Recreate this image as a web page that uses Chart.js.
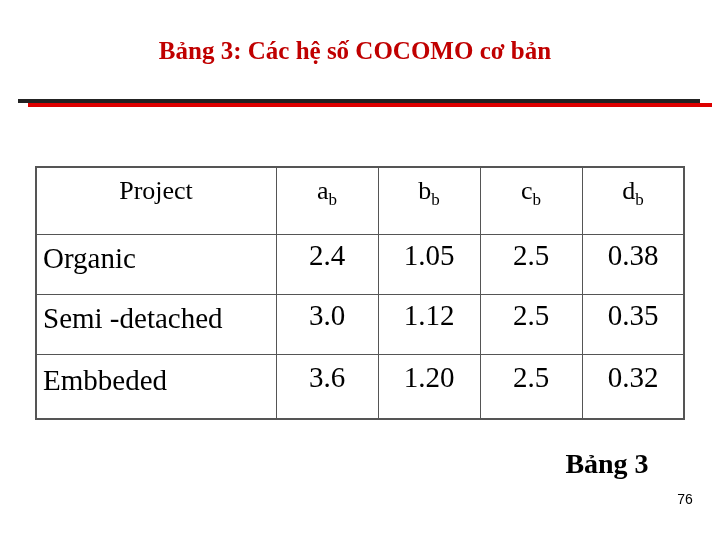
<!DOCTYPE html>
<html>
<head>
<meta charset="utf-8">
<script src="https://cdn.jsdelivr.net/npm/chart.js@4.4.1/dist/chart.umd.min.js"></script>
<style>body{margin:0;background:#fff}canvas{display:block}</style>
</head>
<body>
<canvas id="c" width="720" height="540"></canvas>
<script>
const title = "Bảng 3: Các hệ số COCOMO cơ bản";
const headers = [["Project",""],["a","b"],["b","b"],["c","b"],["d","b"]];
const projects = ["Organic","Semi -detached","Embbeded"];
const aValues = ["2.4","3.0","3.6"];
const bValues = ["1.05","1.12","1.20"];
const cValues = ["2.5","2.5","2.5"];
const dValues = ["0.38","0.35","0.32"];
const caption = "Bảng 3";
const pageNo = "76";

// layout in slide coordinates (scale units = px of the 720x540 slide)
const colEdges = [36,276,378,480,582,684];
const rowEdges = [167,234,294,354,419];
const SERIF = '"Liberation Serif", "Times New Roman", serif';

const tablePlugin = {
  id:'slideTable',
  afterDraw(chart){
    const ctx = chart.ctx, xs = chart.scales.x, ys = chart.scales.y;
    const X = v=>xs.getPixelForValue(v), Y = v=>ys.getPixelForValue(v);
    ctx.save();
    // title
    ctx.fillStyle = '#c00000';
    ctx.font = 'bold 25px ' + SERIF;
    ctx.textAlign = 'center'; ctx.textBaseline = 'middle';
    ctx.fillText(title, X(355), Y(53));
    // rule
    ctx.fillStyle = '#222';
    ctx.fillRect(X(18), Y(99), X(700)-X(18), 4);
    ctx.fillStyle = '#dd0000';
    ctx.fillRect(X(28), Y(103), X(712)-X(28), 4);
    // grid
    ctx.strokeStyle = '#555'; ctx.lineWidth = 1;
    colEdges.forEach(c=>{ctx.beginPath();ctx.moveTo(X(c)+.5,Y(rowEdges[0]));ctx.lineTo(X(c)+.5,Y(rowEdges[rowEdges.length-1]));ctx.stroke();});
    rowEdges.forEach(r=>{ctx.beginPath();ctx.moveTo(X(colEdges[0]),Y(r)+.5);ctx.lineTo(X(colEdges[colEdges.length-1]),Y(r)+.5);ctx.stroke();});
    ctx.lineWidth = 2;
    ctx.strokeRect(X(36), Y(167), X(684)-X(36), Y(419)-Y(167));
    // header
    ctx.fillStyle = '#000';
    headers.forEach((h,i)=>{
      const cx = (colEdges[i]+colEdges[i+1])/2;
      ctx.font = '26px ' + SERIF;
      const w1 = ctx.measureText(h[0]).width;
      ctx.font = '17px ' + SERIF;
      const w2 = ctx.measureText(h[1]).width;
      let x0 = X(cx) - (w1+w2)/2;
      ctx.textAlign = 'left'; ctx.textBaseline = 'alphabetic';
      ctx.font = '26px ' + SERIF;
      ctx.fillText(h[0], x0, Y(199));
      ctx.font = '17px ' + SERIF;
      ctx.fillText(h[1], x0+w1, Y(205));
    });
    // body
    const cols = [projects,aValues,bValues,cValues,dValues];
    ctx.font = '29px ' + SERIF;
    ctx.textBaseline = 'middle';
    for(let r=0;r<projects.length;r++){
      const cy = (rowEdges[r+1]+rowEdges[r+2])/2;
      cols.forEach((col,i)=>{
        if(i===0){ctx.textAlign='left';ctx.fillText(col[r], X(43), Y(cy-4));}
        else {ctx.textAlign='center';ctx.fillText(col[r], X((colEdges[i]+colEdges[i+1])/2), Y(cy-7));}
      });
    }
    ctx.font = 'bold 28px ' + SERIF;
    ctx.textAlign='center';
    ctx.fillText(caption, X(607), Y(466));
    ctx.font = '14px "Liberation Sans", sans-serif';
    ctx.fillText(pageNo, X(685), Y(500));
    ctx.restore();
  }
};

new Chart(document.getElementById('c'), {
  type:'scatter',
  data:{datasets:[{data:[],pointRadius:0}]},
  options:{
    responsive:false, animation:false,
    layout:{padding:0},
    plugins:{legend:{display:false},tooltip:{enabled:false}},
    scales:{
      x:{type:'linear',min:0,max:720,display:false},
      y:{type:'linear',min:0,max:540,reverse:true,display:false}
    }
  },
  plugins:[tablePlugin]
});
</script>
</body>
</html>
